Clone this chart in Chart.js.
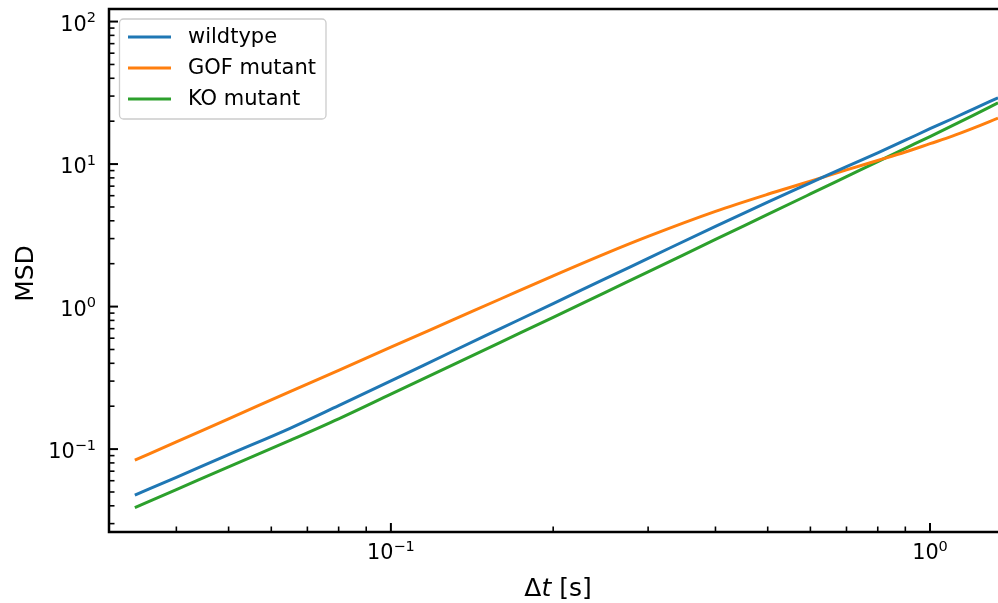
<!DOCTYPE html>
<html>
<head>
<meta charset="utf-8">
<script src="https://cdn.jsdelivr.net/npm/chart.js@4/dist/chart.umd.min.js"></script>
<style>
  html, body { margin: 0; padding: 0; background: #fff; }
  #msd { display: block; }
</style>
</head>
<body>
<canvas id="msd" width="998" height="603"></canvas>
<script>
// lag times (s) and MSD of each strain
const lagTimes = [0.0335, 0.04, 0.05, 0.065, 0.08, 0.1, 0.13, 0.16, 0.2, 0.25, 0.3,
                  0.4, 0.5, 0.6, 0.7, 0.8, 0.9, 1.0, 1.1, 1.2, 1.337];
const msdWildtype = [0.0475, 0.0634, 0.0914, 0.140, 0.202, 0.301, 0.484, 0.703, 1.05, 1.57, 2.18,
                     3.66, 5.41, 7.38, 9.59, 12.0, 14.7, 17.7, 20.8, 24.2, 29.2];
const msdGof = [0.0836, 0.1125, 0.163, 0.253, 0.357, 0.519, 0.803, 1.135, 1.644, 2.355, 3.11,
                4.66, 6.14, 7.58, 9.1, 10.6, 12.15, 13.9, 15.7, 17.8, 21.0];
const msdKo = [0.0389, 0.0520, 0.0750, 0.115, 0.163, 0.243, 0.389, 0.564, 0.840, 1.26, 1.75,
               2.96, 4.43, 6.17, 8.17, 10.42, 12.9, 15.6, 18.6, 21.9, 26.9];
const seriesNames = ["wildtype", "GOF mutant", "KO mutant"];
const seriesColors = ["#1f77b4", "#ff7f0e", "#2ca02c"];

const xRange = [0.0300, 1.337];
const yRange = [0.0262, 122.5];

const FONT = "DejaVu Sans";
const BASE_PX = 20.8, EXP_PX = 14.5;

function isDecade(v) {
    const e = Math.log10(v);
    return Math.abs(e - Math.round(e)) < 1e-6;
}

function toPoints(ys) {
    return lagTimes.map((x, i) => ({ x: x, y: ys[i] }));
}

// draws "10" with a raised exponent, anchored by align ("right" or "center")
function drawPow(ctx, exp, x, baseline, align) {
    const expStr = exp < 0 ? "\u2212" + (-exp) : String(exp);
    ctx.font = BASE_PX + "px '" + FONT + "'";
    const wb = ctx.measureText("10").width;
    ctx.font = EXP_PX + "px '" + FONT + "'";
    const we = ctx.measureText(expStr).width;
    const total = wb + we;
    const x0 = align === "right" ? x - total : x - total / 2;
    ctx.textAlign = "left";
    ctx.textBaseline = "alphabetic";
    ctx.font = BASE_PX + "px '" + FONT + "'";
    ctx.fillText("10", x0, baseline);
    ctx.font = EXP_PX + "px '" + FONT + "'";
    ctx.fillText(expStr, x0 + wb, baseline - 8.5);
}

// spines, inward ticks, tick labels, axis titles, legend box
const decorPlugin = {
    id: "decor",
    afterDraw(chart) {
        const ctx = chart.ctx;
        const a = chart.chartArea;
        const xs = chart.scales.x, ys = chart.scales.y;
        ctx.save();

        // ticks
        ctx.strokeStyle = "#000";
        function eachTick(scale, cb) {
            const lo = Math.floor(Math.log10(scale.min)), hi = Math.ceil(Math.log10(scale.max));
            for (let d = lo; d <= hi; d++) {
                for (let k = 1; k <= 9; k++) {
                    const v = k * Math.pow(10, d);
                    if (v < scale.min || v > scale.max) continue;
                    cb(scale.getPixelForValue(v), k === 1);
                }
            }
        }
        eachTick(ys, (py, major) => {
            ctx.lineWidth = major ? 2 : 1.6;
            ctx.beginPath();
            ctx.moveTo(a.left, py);
            ctx.lineTo(a.left + (major ? 9 : 5.5), py);
            ctx.stroke();
        });
        eachTick(xs, (px, major) => {
            ctx.lineWidth = major ? 2 : 1.6;
            ctx.beginPath();
            ctx.moveTo(px, a.bottom);
            ctx.lineTo(px, a.bottom - (major ? 9 : 5.5));
            ctx.stroke();
        });

        // spines (left, bottom, top)
        ctx.lineWidth = 2.5;
        ctx.beginPath();
        ctx.moveTo(a.right + 2, a.top);
        ctx.lineTo(a.left, a.top);
        ctx.lineTo(a.left, a.bottom);
        ctx.lineTo(a.right + 2, a.bottom);
        ctx.stroke();

        // tick labels at decades
        ctx.fillStyle = "#000";
        ys.ticks.forEach(t => {
            if (!isDecade(t.value)) return;
            const py = ys.getPixelForValue(t.value);
            drawPow(ctx, Math.round(Math.log10(t.value)), 96, py + 9, "right");
        });
        xs.ticks.forEach(t => {
            if (!isDecade(t.value)) return;
            const px = xs.getPixelForValue(t.value);
            drawPow(ctx, Math.round(Math.log10(t.value)), px, 559, "center");
        });

        // axis titles
        ctx.textBaseline = "alphabetic";
        ctx.textAlign = "left";
        ctx.font = "25px '" + FONT + "'";
        const p1 = "\u0394", p3 = " [s]";
        const w1 = ctx.measureText(p1).width, w3 = ctx.measureText(p3).width;
        ctx.font = "italic 25px '" + FONT + "'";
        const w2 = ctx.measureText("t").width;
        const tx = 558 - (w1 + w2 + w3) / 2;
        const ty = 596;
        ctx.font = "25px '" + FONT + "'";
        ctx.fillText(p1, tx, ty);
        ctx.font = "italic 25px '" + FONT + "'";
        ctx.fillText("t", tx + w1, ty);
        ctx.font = "25px '" + FONT + "'";
        ctx.fillText(p3, tx + w1 + w2, ty);

        ctx.save();
        ctx.translate(33, 273.5);
        ctx.rotate(-Math.PI / 2);
        ctx.textAlign = "center";
        ctx.fillText("MSD", 0, 0);
        ctx.restore();

        // legend
        const bx = 119.5, by = 19, bw = 206.5, bh = 100, r = 4;
        ctx.beginPath();
        ctx.moveTo(bx + r, by);
        ctx.arcTo(bx + bw, by, bx + bw, by + bh, r);
        ctx.arcTo(bx + bw, by + bh, bx, by + bh, r);
        ctx.arcTo(bx, by + bh, bx, by, r);
        ctx.arcTo(bx, by, bx + bw, by, r);
        ctx.closePath();
        ctx.fillStyle = "rgba(255,255,255,0.8)";
        ctx.fill();
        ctx.lineWidth = 1.3;
        ctx.strokeStyle = "#cccccc";
        ctx.stroke();

        ctx.font = "21px '" + FONT + "'";
        ctx.textBaseline = "middle";
        ctx.textAlign = "left";
        chart.data.datasets.forEach((ds, i) => {
            const rowY = 37 + i * 31;
            ctx.strokeStyle = ds.borderColor;
            ctx.lineWidth = 3;
            ctx.beginPath();
            ctx.moveTo(128, rowY);
            ctx.lineTo(171, rowY);
            ctx.stroke();
            ctx.fillStyle = "#000";
            ctx.fillText(ds.label, 188, rowY + 1);
        });

        ctx.restore();
    }
};

function noPad(s) {
    s.paddingTop = 0; s.paddingBottom = 0; s.paddingLeft = 0; s.paddingRight = 0;
}

new Chart(document.getElementById("msd").getContext("2d"), {
    type: "line",
    data: {
        datasets: [msdWildtype, msdGof, msdKo].map((ys, i) => ({
            label: seriesNames[i],
            data: toPoints(ys),
            borderColor: seriesColors[i],
            backgroundColor: seriesColors[i],
            borderWidth: 3,
            pointRadius: 0,
            fill: false,
            cubicInterpolationMode: "monotone"
        }))
    },
    options: {
        responsive: false,
        animation: false,
        devicePixelRatio: 1,
        layout: { padding: { top: 9, right: 0, left: 0, bottom: 0 } },
        plugins: {
            legend: { display: false },
            tooltip: { enabled: false }
        },
        scales: {
            x: {
                type: "logarithmic",
                position: "bottom",
                min: xRange[0],
                max: xRange[1],
                grid: { display: false },
                border: { display: false },
                ticks: { display: false, autoSkip: false },
                afterFit: s => { s.height = 71; noPad(s); }
            },
            y: {
                type: "logarithmic",
                position: "left",
                min: yRange[0],
                max: yRange[1],
                grid: { display: false },
                border: { display: false },
                ticks: { display: false, autoSkip: false },
                afterFit: s => { s.width = 109; noPad(s); }
            }
        }
    },
    plugins: [decorPlugin]
});
</script>
</body>
</html>
